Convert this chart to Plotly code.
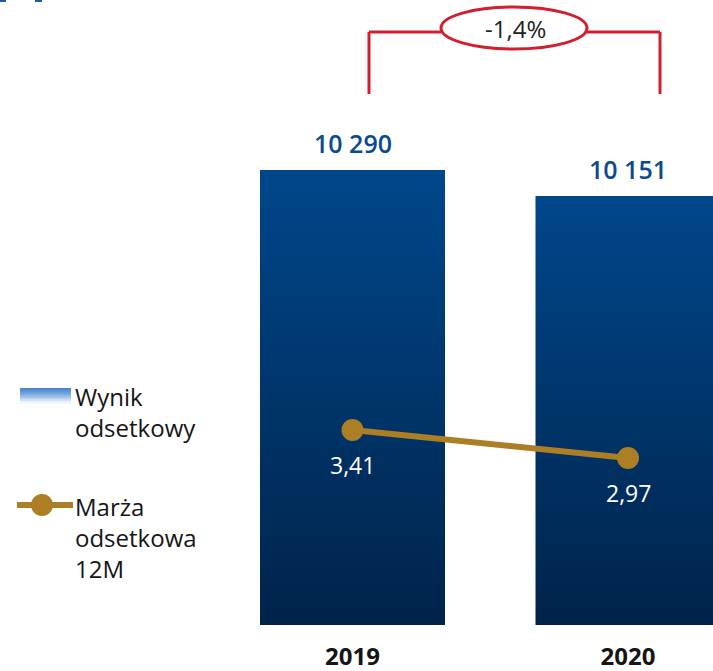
import plotly.graph_objects as go

# ---- data ----
years = ["2019", "2020"]
wynik = [10290, 10151]
wynik_labels = ["10 290", "10 151"]
marza = [3.41, 2.97]
marza_labels = ["3,41", "2,97"]
change_label = "-1,4%"

W, H = 713, 671
PLOT_H = 625
FONT = "Open Sans"
BLUE_TOP = "#00478B"
BLUE_BOT = "#00234A"
GOLD = "#AC7F24"
RED = "#D11F2E"
LABEL_BLUE = "#0B4A8E"

Y_MIN, Y_MAX = 7857.5, 11199
Y2_MIN, Y2_MAX = 0.346, 10.167
BAR_W = 0.6715
xs = list(range(len(years)))

def px(x):
    return x / W

def py(y):
    return 1 - y / PLOT_H

fig = go.Figure()

# bars as gradient-filled polygons built from data
for i, v in enumerate(wynik):
    x0, x1 = xs[i] - BAR_W / 2, xs[i] + BAR_W / 2
    fig.add_trace(go.Scatter(
        x=[x0, x0, x1, x1, x0], y=[Y_MIN, v, v, Y_MIN, Y_MIN],
        mode="lines", line=dict(width=0), fill="toself",
        fillgradient=dict(type="vertical",
                          colorscale=[[0, BLUE_BOT], [1, BLUE_TOP]]),
        name="Wynik odsetkowy", showlegend=False, hoverinfo="skip",
    ))

fig.add_trace(go.Scatter(
    x=xs, y=marza, yaxis="y2", mode="lines+markers",
    line=dict(color=GOLD, width=6), marker=dict(color=GOLD, size=22),
    name="Marża odsetkowa 12M", showlegend=False,
))

annotations = []
for i, v in enumerate(wynik):
    annotations.append(dict(x=xs[i], y=v, xref="x", yref="y", text=wynik_labels[i],
                            showarrow=False, yanchor="middle", yshift=27.5,
                            font=dict(family=FONT, size=25, color=LABEL_BLUE, weight=600)))
for i, v in enumerate(marza):
    annotations.append(dict(x=xs[i], y=v, xref="x", yref="y2", text=marza_labels[i],
                            showarrow=False, yanchor="middle", yshift=-35,
                            font=dict(family=FONT, size=23, color="white")))

annotations.append(dict(x=px(515), y=py(29), xref="paper", yref="paper", text=change_label,
                        showarrow=False, xanchor="center", yanchor="middle",
                        font=dict(family=FONT, size=24, color="#222222")))
annotations.append(dict(x=px(73), y=py(412), xref="paper", yref="paper",
                        text="Wynik<br>odsetkowy", showarrow=False, align="left",
                        xanchor="left", yanchor="middle",
                        font=dict(family=FONT, size=24, color="#151515")))
annotations.append(dict(x=px(73), y=py(537), xref="paper", yref="paper",
                        text="Marża<br>odsetkowa<br>12M", showarrow=False, align="left",
                        xanchor="left", yanchor="middle",
                        font=dict(family=FONT, size=24, color="#151515")))

shapes = []
red_line = dict(color=RED, width=3)
shapes.append(dict(type="line", xref="paper", yref="paper", x0=px(369), x1=px(369), y0=py(32), y1=py(94), line=red_line))
shapes.append(dict(type="line", xref="paper", yref="paper", x0=px(369), x1=px(441), y0=py(32), y1=py(32), line=red_line))
shapes.append(dict(type="line", xref="paper", yref="paper", x0=px(587), x1=px(660), y0=py(32), y1=py(32), line=red_line))
shapes.append(dict(type="line", xref="paper", yref="paper", x0=px(660), x1=px(660), y0=py(32), y1=py(94), line=red_line))
shapes.append(dict(type="circle", xref="paper", yref="paper", x0=px(441), x1=px(587), y0=py(49), y1=py(7), line=red_line, fillcolor="rgba(0,0,0,0)"))

# legend symbol: gradient strip (light blue -> white)
strip_cols = ["#4C88D0", "#5B93D6", "#6D9FDB", "#82AEE1", "#9BBFE8", "#B6D0EE", "#D2E2F5", "#EEF4FB"]
top, bot = 388, 403
step = (bot - top) / len(strip_cols)
for k, c in enumerate(strip_cols):
    shapes.append(dict(type="rect", xref="paper", yref="paper", x0=px(20), x1=px(71),
                       y0=py(top + (k + 1) * step + 0.6), y1=py(top + k * step),
                       line=dict(width=0), fillcolor=c, layer="above"))
# legend symbol: line with marker
shapes.append(dict(type="line", xref="paper", yref="paper", x0=px(17), x1=px(73), y0=py(505), y1=py(505),
                   line=dict(color=GOLD, width=6)))
shapes.append(dict(type="circle", xref="paper", yref="paper", x0=px(31), x1=px(53), y0=py(516), y1=py(494),
                   line=dict(width=0), fillcolor=GOLD))
# remnants of a cropped heading at top-left
shapes.append(dict(type="rect", xref="paper", yref="paper", x0=px(0), x1=px(6), y0=py(2), y1=py(0),
                   line=dict(width=0), fillcolor="#1E5CA3"))
shapes.append(dict(type="rect", xref="paper", yref="paper", x0=px(35), x1=px(42), y0=py(2), y1=py(0),
                   line=dict(width=0), fillcolor="#1E5CA3"))

fig.update_layout(
    width=W, height=H,
    margin=dict(l=0, r=0, t=0, b=H - PLOT_H, autoexpand=False),
    paper_bgcolor="white", plot_bgcolor="white",
    showlegend=False,
    xaxis=dict(range=[-352.5 / 275.5, (W - 352.5) / 275.5], tickvals=xs, ticktext=years,
               showgrid=False, zeroline=False, showline=False, ticks="",
               automargin=False, ticklabelstandoff=15,
               tickfont=dict(family=FONT, size=24, color="#151515", weight="bold")),
    yaxis=dict(range=[Y_MIN, Y_MAX], visible=False, showgrid=False),
    yaxis2=dict(range=[Y2_MIN, Y2_MAX], overlaying="y", visible=False, showgrid=False),
    annotations=annotations, shapes=shapes,
)

fig.write_html("out.html", config={"displayModeBar": False},
               post_script="document.body.style.margin='0';document.body.style.overflow='hidden';")
